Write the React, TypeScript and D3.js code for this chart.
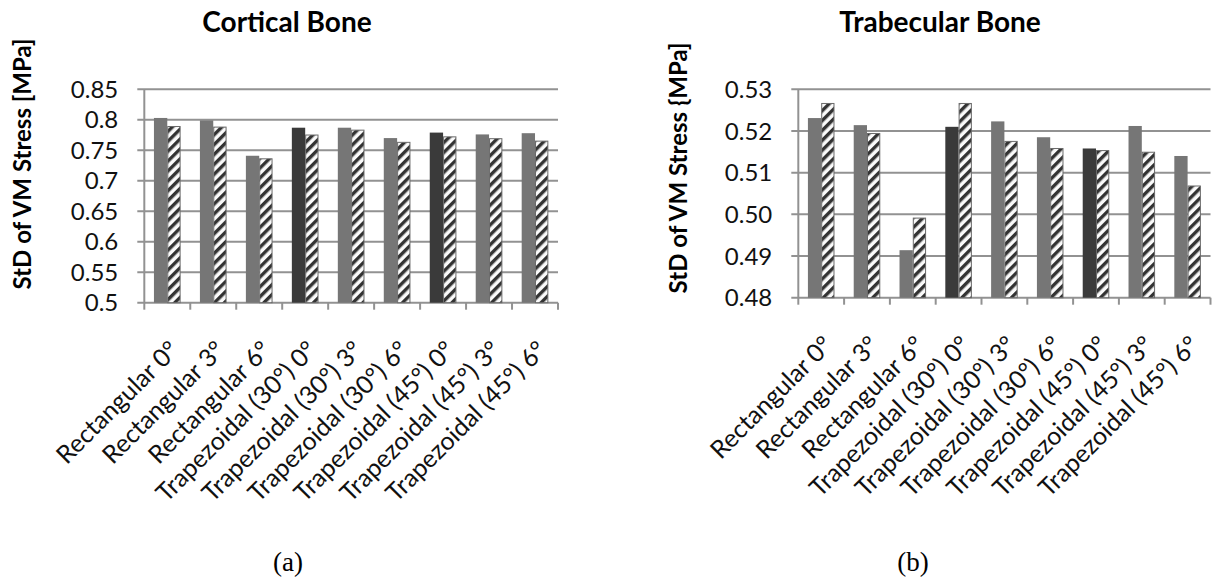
import * as d3 from "d3";
import React from "react";

const categories = [
  "Rectangular 0°",
  "Rectangular 3°",
  "Rectangular 6°",
  "Trapezoidal (30°) 0°",
  "Trapezoidal (30°) 3°",
  "Trapezoidal (30°) 6°",
  "Trapezoidal (45°) 0°",
  "Trapezoidal (45°) 3°",
  "Trapezoidal (45°) 6°",
];
// the 0° trapezoidal cases are drawn darker
const darkCategories = ["Trapezoidal (30°) 0°", "Trapezoidal (45°) 0°"];

const corticalSolid = [0.803, 0.799, 0.741, 0.787, 0.787, 0.77, 0.779, 0.776, 0.778];
const corticalHatched = [0.789, 0.788, 0.736, 0.775, 0.783, 0.763, 0.772, 0.769, 0.765];
const corticalTicks = [0.5, 0.55, 0.6, 0.65, 0.7, 0.75, 0.8, 0.85];
const corticalTickLabels = ["0.5", "0.55", "0.6", "0.65", "0.7", "0.75", "0.8", "0.85"];

const trabecularSolid = [0.5231, 0.5214, 0.4914, 0.521, 0.5223, 0.5185, 0.5158, 0.5212, 0.514];
const trabecularHatched = [0.5266, 0.5194, 0.4991, 0.5266, 0.5175, 0.5158, 0.5153, 0.5149, 0.5068];
const trabecularTicks = [0.48, 0.49, 0.5, 0.51, 0.52, 0.53];
const trabecularTickLabels = ["0.48", "0.49", "0.50", "0.51", "0.52", "0.53"];

const FONT = "Lato, 'Open Sans', sans-serif";

type PanelProps = {
  title: string;
  yLabel: string;
  caption: string;
  solid: number[];
  hatched: number[];
  ticks: number[];
  tickLabels: string[];
  left: number;
  right: number;
  top: number;
  bottom: number;
  titleX: number;
  yLabelX: number;
  yLabelY: number;
  captionX: number;
};

const Panel = (props: PanelProps) => {
  const { solid, hatched, ticks, tickLabels, left, right, top, bottom } = props;
  const y = d3
    .scaleLinear()
    .domain([ticks[0], ticks[ticks.length - 1]])
    .range([bottom, top]);
  const x = d3
    .scaleBand<string>()
    .domain(categories)
    .range([left, right])
    .paddingInner(0.42)
    .paddingOuter(0.21);
  const inner = d3
    .scaleBand<string>()
    .domain(["solid", "hatched"])
    .range([0, x.bandwidth()]);
  const step = x.step();
  const bounds = d3.range(categories.length + 1).map((i) => left + i * step);
  const grid = "#929292";

  return (
    <g>
      <text
        x={props.titleX}
        y={32}
        textAnchor="middle"
        fontFamily={FONT}
        fontWeight="bold"
        fontSize={28}
        fill="#000"
      >
        {props.title}
      </text>
      <text
        transform={`translate(${props.yLabelX},${props.yLabelY}) rotate(-90)`}
        textAnchor="middle"
        fontFamily={FONT}
        fontWeight="bold"
        fontSize={24}
        fill="#000"
      >
        {props.yLabel}
      </text>
      {ticks.map((t, i) => (
        <g key={t}>
          <line x1={left - 7} x2={right} y1={y(t)} y2={y(t)} stroke={grid} strokeWidth={2} />
          <text
            x={left - 26}
            y={y(t)}
            dy="0.36em"
            textAnchor="end"
            fontFamily={FONT}
            fontSize={24}
            fill="#111"
          >
            {tickLabels[i]}
          </text>
        </g>
      ))}
      <line x1={left} x2={left} y1={top} y2={bottom} stroke={grid} strokeWidth={2} />
      {bounds.map((b, i) => (
        <line key={i} x1={b} x2={b} y1={bottom} y2={bottom + 7} stroke={grid} strokeWidth={2} />
      ))}
      {categories.map((c, i) => {
        const x0 = x(c) as number;
        const dark = darkCategories.includes(c);
        return (
          <g key={c}>
            <rect
              x={x0 + (inner("solid") as number)}
              y={y(solid[i])}
              width={inner.bandwidth()}
              height={bottom - y(solid[i])}
              fill={dark ? "#3a3a3a" : "#767676"}
            />
            <rect
              x={x0 + (inner("hatched") as number) + 0.5}
              y={y(hatched[i])}
              width={inner.bandwidth() - 1}
              height={bottom - y(hatched[i])}
              fill="url(#hatch)"
              stroke="#6a6a6a"
              strokeWidth={1}
            />
          </g>
        );
      })}
      {categories.map((c) => {
        const cx = (x(c) as number) + x.bandwidth() / 2;
        return (
          <text
            key={c}
            transform={`translate(${cx + 13},${bottom + 49}) rotate(-45)`}
            textAnchor="end"
            fontFamily={FONT}
            fontSize={25}
            fill="#111"
          >
            {c}
          </text>
        );
      })}
      <text
        x={props.captionX}
        y={571}
        textAnchor="middle"
        fontFamily="'Liberation Serif', 'Times New Roman', serif"
        fontSize={27}
        fill="#000"
      >
        {props.caption}
      </text>
    </g>
  );
};

const App = () => {
  return (
    <svg
      width={1215}
      height={580}
      style={{ position: "absolute", left: 0, top: 0, background: "#fff" }}
    >
      <defs>
        <pattern
          id="hatch"
          patternUnits="userSpaceOnUse"
          width={7}
          height={7}
          patternTransform="rotate(45)"
        >
          <rect width={7} height={7} fill="#fafafa" />
          <rect width={3.4} height={7} fill="#333" />
        </pattern>
      </defs>
      <Panel
        title="Cortical Bone"
        yLabel="StD of VM Stress [MPa]"
        caption="(a)"
        solid={corticalSolid}
        hatched={corticalHatched}
        ticks={corticalTicks}
        tickLabels={corticalTickLabels}
        left={144.3}
        right={558}
        top={89.3}
        bottom={302.7}
        titleX={287}
        yLabelX={31}
        yLabelY={164}
        captionX={288}
      />
      <Panel
        title="Trabecular Bone"
        yLabel="StD of VM Stress {MPa]"
        caption="(b)"
        solid={trabecularSolid}
        hatched={trabecularHatched}
        ticks={trabecularTicks}
        tickLabels={trabecularTickLabels}
        left={798.3}
        right={1210.5}
        top={89.3}
        bottom={297.7}
        titleX={940}
        yLabelX={687}
        yLabelY={168}
        captionX={913}
      />
    </svg>
  );
};

export default App;
